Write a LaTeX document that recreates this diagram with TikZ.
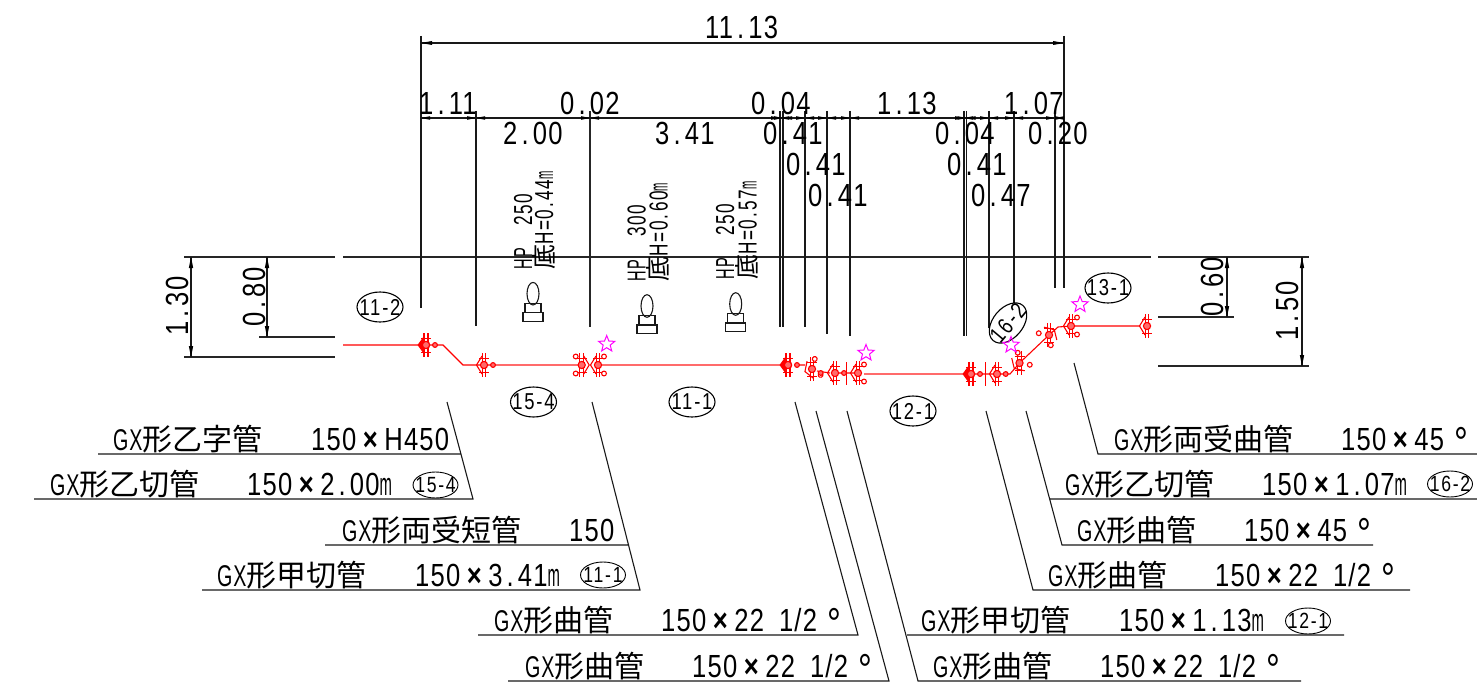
\documentclass[tikz,border=0pt]{standalone}
\usepackage{fontspec}
\usetikzlibrary{shapes.geometric}
\newfontfamily\cadf[FakeStretch=.8,LetterSpace=3.8]{Liberation Sans}
\newfontfamily\smallf[FakeStretch=.66,LetterSpace=6]{Liberation Sans}
\newfontfamily\bubf[FakeStretch=.8,LetterSpace=8]{Liberation Sans}
\newfontfamily\cjkf{Noto Sans CJK JP}
\newcommand\fcad{\fontsize{32}{32}\cadf}
\newcommand\fsm{\fontsize{26}{26}\smallf}
\newcommand\pd{\makebox[15.4pt][c]{.}}
\newcommand\pds{\makebox[9.5pt][c]{.}}
\newcommand\tm{\makebox[28pt][c]{\bfseries ×}}
\newcommand\mm{\scalebox{.58}[1]{m}}
\newcommand\dg{\makebox[24pt][r]{\raisebox{-7pt}{\scalebox{1.35}{°}}}}
\newcommand\GX{\scalebox{.82}[1]{GX}}
\newcommand\sptwo{\hspace*{15pt}}
\newcommand\half{22\sptwo 1/2\dg}
\newcommand\bt[1]{\makebox[0pt][c]{#1}}
\definecolor{pipe}{rgb}{1,0,0}
\definecolor{pipepale}{rgb}{1,.42,.42}
\definecolor{starc}{rgb}{1,0,1}
\tikzset{
 x=1pt,y=-1pt,
 blk/.style={line width=1.3pt,black!85},
 thinb/.style={line width=1.1pt,black!90},
 dimtxt/.style={inner sep=0,anchor=base west,font=\fcad},
 vdim/.style={inner sep=0,anchor=base,rotate=90,font=\fcad},
 hptxt/.style={inner sep=0,anchor=base west,rotate=90,font=\fsm},
 bub/.style={draw,ellipse,line width=1.1pt,minimum width=46pt,minimum height=30pt,inner sep=0,font=\fontsize{23}{23}\bubf},
 sbub/.style={draw,ellipse,line width=.9pt,minimum width=45pt,minimum height=26pt,inner sep=0,font=\fontsize{22}{22}\bubf},
 mark star/.style={draw=starc,star,star points=5,star point ratio=2.3,minimum size=17pt,inner sep=0,line width=1pt},
 rd/.style={draw=pipe,line width=1.1pt},
 rp/.style={draw=pipepale,line width=2pt},
 flangecore/.pic={
  \draw[rd] (-1.8,-12)--(-1.8,12) (1.8,-12)--(1.8,12);
  \draw[rd,line width=.7pt] (-5,-7)--(5,-7) (-5,7)--(5,7);
  \draw[rd,fill=pipepale] (0,0) circle[radius=3.6pt];
 },
 flangeA/.pic={
  \fill[pipe] (-8.5,0)--(-2,-9)--(-2,9)--cycle;
  \pic {flangecore};
  \draw[pipe,line width=2pt] (-1.8,-12)--(-1.8,12) (1.8,-12)--(1.8,12);
  \draw[rd,fill=pipepale] (0,0) circle[radius=3.6pt];
  \draw[rd,fill=pipepale] (9,0) circle[radius=2.4pt];
 },
 flangeB/.pic={
  \draw[rd] (-7.5,0)--(-2,-9) (-7.5,0)--(-2,9);
  \pic {flangecore};
 },
 flangeC/.pic={
  \draw[rd] (2,-9)--(7.5,0)--(2,9);
  \pic {flangecore};
  \draw[rd,fill=white] (-6,-8.5) circle[radius=2.4pt] (-6,8.5) circle[radius=2.4pt];
 },
 smallring/.pic={\draw[rd,fill=pipepale] (0,0) circle[radius=2.4pt];},
 hpsym/.pic={
  \draw[thinb] (0,0) ellipse[x radius=6pt,y radius=11.3pt];
  \draw[thinb] (-8,9.5) rectangle (8,19);
  \draw[thinb] (-10,19) rectangle (10,27.5);
 }
}
\newcommand\lab[6]{%
 \node[inner sep=0,anchor=base west] (#1a) at (#2,#3) {\fontsize{30}{30}\cadf\GX\cjkf #4};
 \node[dimtxt] (#1b) at (#5,#3) {#6};}
\newcommand\hptop[1]{\scalebox{.85}[1]{HP}\hspace*{23pt}#1}
\newcommand\hpbot[2]{{\fontsize{25}{25}\cjkf 底}H=0\pds #1\mm}
\begin{document}
\begin{tikzpicture}
\useasboundingbox (0,0) rectangle (1477,690);
% ground lines
\draw[blk] (184,257)--(335,257) (343,257)--(1151,257) (1158,257)--(1309,257);
\draw[blk] (184,357)--(335,357) (259,337)--(335,337);
\draw[blk] (1158,317)--(1234,317) (1158,366)--(1309,366);
% vertical dims
\foreach \a/\b/\c in {191/257/357,267/257/337,1227/257/317,1302/257/366}{
 \draw[thinb] (\a,\b)--(\a,\c);
 \fill (\a,\b)--(\a-2.2,\b+11)--(\a+2.2,\b+11)--cycle;
 \fill (\a,\c)--(\a-2.2,\c-11)--(\a+2.2,\c-11)--cycle;
}
\node[vdim] (d130) at (188,306) {1\pd 30};
\node[vdim] (d080) at (265,297) {0\pd 80};
\node[vdim] (d060) at (1223,287) {0\pd 60};
\node[vdim] (d150) at (1298,311) {1\pd 50};
% extension lines
\draw[thinb] (421,36)--(421,308) (1064,36)--(1064,288);
\draw[thinb] (476,111)--(476,326);
\draw[line width=2pt,black!85] (590,111)--(590,327);
\draw[thinb] (780,111)--(780,327) (783,111)--(783,327);
\draw[thinb] (805,111)--(805,327) (827,111)--(827,334) (850,111)--(850,336);
\draw[thinb] (964,111)--(964,336) (966.5,111)--(966.5,336);
\draw[thinb] (989,111)--(989,328) (1014,111)--(1014,303) (1055,111)--(1055,288);
% dimension lines
\draw[thinb] (421,43)--(1064,43);
\draw[thinb] (421,118)--(1064,118);
\fill (421,43)--(432,41)--(432,45)--cycle (1064,43)--(1053,41)--(1053,45)--cycle;
\foreach \x in {421,476,590,780,783,805,827,850,964,966.5,989,1014,1055,1064}{
 \ifdim\x pt>421pt \fill[black] (\x,118)--(\x-9,116.2)--(\x-9,119.8)--cycle;\fi
 \ifdim\x pt<1064pt \fill[black] (\x,118)--(\x+9,116.2)--(\x+9,119.8)--cycle;\fi
}
% dimension texts
\node[dimtxt] (t1113) at (705,39) {11\pd 13};
\node[dimtxt] (t111) at (419,115) {1\pd 11};
\node[dimtxt] (t002) at (560,115) {0\pd 02};
\node[dimtxt] (t200) at (503,145) {2\pd 00};
\node[dimtxt] (t341) at (655,145) {3\pd 41};
\node[dimtxt] (t004a) at (751,115) {0\pd 04};
\node[dimtxt] (t113) at (877,115) {1\pd 13};
\node[dimtxt] (t107) at (1004,115) {1\pd 07};
\node[dimtxt] (t041a) at (763,145) {0\pd 41};
\node[dimtxt] (t041b) at (786,175) {0\pd 41};
\node[dimtxt] (t041c) at (808,206) {0\pd 41};
\node[dimtxt] (t004b) at (935,145) {0\pd 04};
\node[dimtxt] (t041d) at (947,175) {0\pd 41};
\node[dimtxt] (t047) at (971,206) {0\pd 47};
\node[dimtxt] (t020) at (1028,145) {0\pd 20};
% HP symbols and texts
\pic at (533,293.7) {hpsym};
\pic at (647,306) {hpsym};
\pic at (735.7,304) {hpsym};
\node[hptxt] (hp1a) at (532,270) {\hptop{250}};
\node[hptxt] (hp1b) at (553,270) {\hpbot{44}{}};
\node[hptxt] (hp2a) at (645.7,281.7) {\hptop{300}};
\node[hptxt] (hp2b) at (667.7,281.7) {\hpbot{60}{}};
\node[hptxt] (hp3a) at (734,280) {\hptop{250}};
\node[hptxt] (hp3b) at (756.7,280) {\hpbot{57}{}};
% bubbles
\node[bub] (b112) at (380,307) {\bt{11-2}};
\node[bub] (b154) at (533.5,402) {\bt{15-4}};
\node[bub] (b111) at (692,402) {\bt{11-1}};
\node[bub] (b121) at (913,411) {\bt{12-1}};
\node[bub] (b131) at (1108,288) {\bt{13-1}};
\node[bub,rotate=50] (b162) at (1008,323) {\bt{16-2}};
% pipe
\draw[rd] (343,345)--(443,345)--(463,365)--(490,365);
\draw[rp] (490,365)--(579,365) (600,365)--(780,365) (864,374)--(964,374);
\draw[rd] (797,365)--(805,365) (817,371)--(830,373) (835,373)--(858,373);
\draw[rd] (975,374)--(1010,374)--(1019.5,363)--(1049,335)--(1058,327)--(1071,326)--(1140,326);
\pic at (426,345) {flangeA};
\pic at (484,365) {flangeB};
\pic at (493,365) {smallring};
\pic at (581.7,365) {flangeC};
\pic[xscale=-1] at (598,365) {flangeC};
\pic at (788,365) {flangeA};
\pic[rotate=200] at (812,369) {flangeC};
\pic at (820.7,373) {smallring};
\pic at (835,373) {flangeB};
\pic at (844,373) {smallring};
\draw[rd] (846.7,362)--(846.7,385);
\pic[xscale=-1] at (858,373) {flangeC};
\pic at (971,374) {flangeA};
\draw[rd] (985.7,362)--(985.7,386);
\pic at (997,374) {flangeB};
\pic at (1005.7,374) {smallring};
\pic[rotate=225] at (1019.5,363) {flangeC};
\pic[rotate=45] at (1049,335) {flangeC};
\pic[xscale=-1] at (1071,326) {flangeC};
\pic at (1147,326) {flangeB};
% stars
\node[mark star] (s1) at (606.7,344) {};
\node[mark star] (s2) at (866,353) {};
\node[mark star] (s3) at (1011,345) {};
\node[mark star] (s4) at (1080,304.5) {};
% leaders and underlines
\draw[thinb] (447,402)--(473,499)--(34,499) (98,454)--(461,454);
\draw[thinb] (592,402)--(640,590)--(202,590) (325,545)--(629,545);
\draw[thinb] (795,402)--(858,635)--(478,635);
\draw[thinb] (816,411)--(889,681)--(508,681);
\draw[thinb] (847,411)--(918,681)--(1301,681) (907,635)--(1344,635);
\draw[thinb] (1074,363)--(1098,454)--(1477,454);
\draw[thinb] (1026,411)--(1062,545)--(1373,545) (1050,499)--(1477,499);
\draw[thinb] (986,411)--(1033,590)--(1410,590);
% labels
\lab{l1}{113}{450}{形乙字管}{311}{150\tm H450}
\lab{l2}{50}{495}{形乙切管}{247}{150\tm 2\pd 00\mm}
\lab{l3}{342}{541}{形両受短管}{569}{150}
\lab{l4}{217}{586}{形甲切管}{415}{150\tm 3\pd 41\mm}
\lab{l5}{494}{631}{形曲管}{661}{150\tm\half}
\lab{l6}{525}{677}{形曲管}{692}{150\tm\half}
\lab{l7}{921}{631}{形甲切管}{1119}{150\tm 1\pd 13\mm}
\lab{l8}{933}{677}{形曲管}{1100}{150\tm\half}
\lab{l9}{1114}{450}{形両受曲管}{1341}{150\tm 45\dg}
\lab{l10}{1065}{495}{形乙切管}{1262}{150\tm 1\pd 07\mm}
\lab{l11}{1077}{541}{形曲管}{1244}{150\tm 45\dg}
\lab{l12}{1048}{586}{形曲管}{1215}{150\tm\half}
\node[sbub] (c154) at (435.5,485) {\bt{15-4}};
\node[sbub] (c111) at (603,575) {\bt{11-1}};
\node[sbub] (c121) at (1308,621) {\bt{12-1}};
\node[sbub] (c162) at (1450,484) {\bt{16-2}};
\end{tikzpicture}
\end{document}
